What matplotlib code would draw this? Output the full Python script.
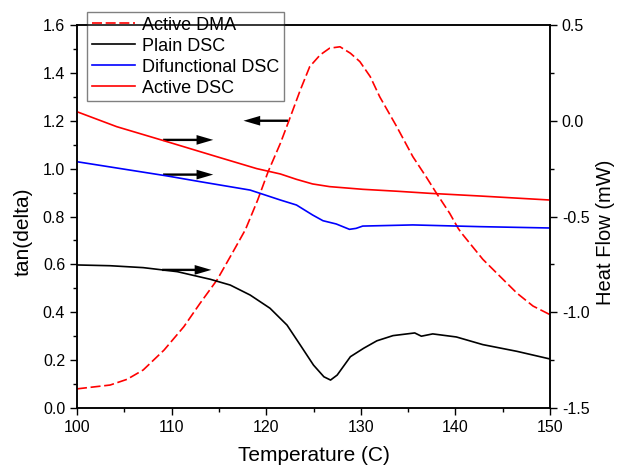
import matplotlib.pyplot as plt

plt.rcParams['font.family'] = ['Liberation Sans', 'DejaVu Sans']

# tan(delta) from DMA, left axis
dma_T = [100, 103.5, 105.3, 107.0, 109.2, 111.3, 113.0, 114.8, 116.4, 117.8, 119.1, 120.2,
         121.5, 122.4, 123.6, 124.6, 125.7, 126.7, 127.8, 128.9, 129.9, 131.0, 132.0,
         133.8, 135.5, 136.9, 138.0, 139.4, 140.3, 140.6, 142.9, 145.4, 146.5, 148.2, 150]
dma_tan = [0.08, 0.096, 0.12, 0.159, 0.242, 0.34, 0.437, 0.535, 0.646, 0.745, 0.869, 0.987,
           1.106, 1.2, 1.328, 1.426, 1.475, 1.503, 1.509, 1.482, 1.447, 1.384, 1.30,
           1.175, 1.05, 0.966, 0.897, 0.813, 0.75, 0.733, 0.621, 0.523, 0.48, 0.426, 0.39]

# heat flow curves, right axis
plain_T = [100, 103.5, 107.0, 110.6, 114.1, 116.2, 118.3, 120.4, 122.2, 123.6, 125.0,
           126.1, 126.8, 127.5, 128.9, 130.3, 131.7, 133.4, 135.7, 136.4, 137.6, 140.1,
           142.9, 146.5, 150]
plain_hf = [-0.753, -0.757, -0.767, -0.788, -0.828, -0.858, -0.910, -0.979, -1.067, -1.171,
            -1.276, -1.337, -1.354, -1.328, -1.232, -1.188, -1.149, -1.122, -1.108, -1.125,
            -1.113, -1.129, -1.169, -1.204, -1.244]

difunc_T = [100, 109.5, 113, 118.3, 121.5, 123.2, 124.9, 126.0, 127.4, 128.8, 129.5,
            130.2, 135.5, 142.6, 150]
difunc_hf = [-0.214, -0.288, -0.318, -0.362, -0.414, -0.44, -0.492, -0.522, -0.539, -0.567,
             -0.562, -0.55, -0.544, -0.553, -0.56]

active_T = [100, 104.2, 109.5, 114.8, 119.0, 121.5, 123.2, 124.9, 126.7, 130.2, 133.8,
            137.3, 142.6, 150]
active_hf = [0.047, -0.031, -0.109, -0.188, -0.25, -0.278, -0.306, -0.33, -0.344, -0.358,
             -0.368, -0.379, -0.393, -0.414]

fig = plt.figure(figsize=(6.18, 4.67), dpi=100)
ax = fig.add_axes([0.1246, 0.1263, 0.7654, 0.8202])
ax2 = ax.twinx()

l1, = ax.plot(dma_T, dma_tan, color='red', lw=1.2, linestyle=(0, (6, 2.2)), label='Active DMA')
l2, = ax2.plot(plain_T, plain_hf, color='black', lw=1.2, label='Plain DSC')
l3, = ax2.plot(difunc_T, difunc_hf, color='blue', lw=1.2, label='Difunctional DSC')
l4, = ax2.plot(active_T, active_hf, color='red', lw=1.2, label='Active DSC')

ax.set_xlim(100, 150)
ax.set_ylim(0, 1.6)
ax2.set_ylim(-1.5, 0.5)

ax.set_xticks([100, 110, 120, 130, 140, 150])
ax.set_xticks(range(105, 150, 10), minor=True)
ax.set_yticks([0, 0.2, 0.4, 0.6, 0.8, 1.0, 1.2, 1.4, 1.6])
ax.set_yticks([0.1, 0.3, 0.5, 0.7, 0.9, 1.1, 1.3, 1.5], minor=True)
ax.set_yticklabels(['0.0', '0.2', '0.4', '0.6', '0.8', '1.0', '1.2', '1.4', '1.6'])
ax2.set_yticks([-1.5, -1.0, -0.5, 0.0, 0.5])
ax2.set_yticks([-1.25, -0.75, -0.25, 0.25], minor=True)
ax2.set_yticklabels(['-1.5', '-1.0', '-0.5', '0.0', '0.5'])

for a in (ax, ax2):
    a.tick_params(which='major', direction='out', length=5, width=1, labelsize=11.5)
    a.tick_params(which='minor', direction='out', length=3, width=1)
    for s in a.spines.values():
        s.set_linewidth(1.1)

ax.set_xlabel('Temperature (C)', fontsize=15, labelpad=8)
ax.set_ylabel('tan(delta)', fontsize=15, labelpad=7)
ax2.set_ylabel('Heat Flow (mW)', fontsize=14.5, labelpad=5)
ax.yaxis.label.set_y(0.46)
ax2.yaxis.label.set_y(0.46)

# arrows showing which axis each curve belongs to
arrow = dict(arrowstyle='simple,head_length=1.2,head_width=0.7,tail_width=0.17',
             facecolor='black', edgecolor='none', shrinkA=0, shrinkB=0)
ax.annotate('', xy=(117.6, 1.2), xytext=(122.3, 1.2), arrowprops=arrow)
ax.annotate('', xy=(114.4, 1.12), xytext=(109.1, 1.12), arrowprops=arrow)
ax.annotate('', xy=(114.4, 0.975), xytext=(109.1, 0.975), arrowprops=arrow)
ax.annotate('', xy=(114.2, 0.577), xytext=(109.0, 0.577), arrowprops=arrow)

leg = ax.legend(handles=[l1, l2, l3, l4], loc='upper left',
                bbox_to_anchor=(0.141, 0.974), bbox_transform=fig.transFigure,
                fontsize=13, fancybox=False, framealpha=1, edgecolor='gray',
                handlelength=2.4, labelspacing=0.22, borderpad=0.25, handletextpad=0.4,
                borderaxespad=0)
leg.get_frame().set_linewidth(1.0)
leg.set_zorder(5)

fig.savefig('out.png', dpi=100)
